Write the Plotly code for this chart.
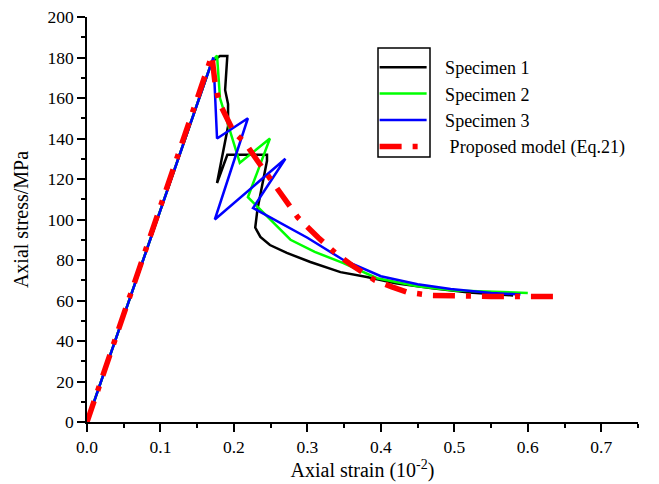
import plotly.graph_objects as go

# Specimen 1 (black)
x1 = [0, 0.17, 0.181, 0.191, 0.188, 0.192, 0.192, 0.177, 0.191, 0.245, 0.245, 0.238, 0.232, 0.229, 0.236, 0.249, 0.272, 0.304, 0.327, 0.345, 0.381, 0.42, 0.47, 0.52, 0.58]
y1 = [0, 178, 180.7, 180.7, 164, 157, 146, 118, 132, 132, 129, 115, 105, 96, 91.4, 87.4, 83.5, 79, 76, 74, 71.6, 68.5, 66, 64, 62.5]
# Specimen 2 (green)
x2 = [0, 0.17, 0.177, 0.181, 0.208, 0.249, 0.219, 0.25, 0.277, 0.31, 0.349, 0.395, 0.45, 0.5, 0.6]
y2 = [0, 178, 181, 160, 128, 140, 111, 100, 90, 84, 78.5, 71, 67, 65, 63.7]
# Specimen 3 (blue)
x3 = [0, 0.172, 0.177, 0.219, 0.174, 0.27, 0.226, 0.3, 0.349, 0.4, 0.45, 0.495, 0.55, 0.59]
y3 = [0, 180, 140, 150, 100, 130, 105.7, 91, 80, 72, 68, 65.7, 63.7, 63]
# Proposed model (red)
xm = [0, 0.17, 0.175, 0.181, 0.2, 0.215, 0.232, 0.252, 0.27, 0.287, 0.315, 0.338, 0.36, 0.392, 0.415, 0.437, 0.47, 0.5, 0.55, 0.6, 0.645]
ym = [0, 181, 165, 157, 143, 138, 129, 118.5, 109.6, 101, 91, 83.5, 77.5, 70, 66.7, 64, 62.5, 62.2, 62, 62, 62]

names = ["&nbsp;&nbsp;&nbsp;Specimen 1", "&nbsp;&nbsp;&nbsp;Specimen 2", "&nbsp;&nbsp;&nbsp;Specimen 3",
         "&nbsp;&nbsp;&nbsp;&nbsp;Proposed model (Eq.21)"]

FONT = "Liberation Serif, Times New Roman, serif"

fig = go.Figure()
fig.add_trace(go.Scatter(x=x1, y=y1, mode="lines", name=names[0], line=dict(color="black", width=2.5)))
fig.add_trace(go.Scatter(x=x2, y=y2, mode="lines", name=names[1], line=dict(color="#00ff00", width=2.5)))
fig.add_trace(go.Scatter(x=x3, y=y3, mode="lines", name=names[2], line=dict(color="#0000ff", width=2.5)))
fig.add_trace(go.Scatter(x=xm, y=ym, mode="lines", name=names[3],
                         line=dict(color="#ff0000", width=5.5, dash="22px,11px,5px,11px")))

fig.update_layout(
    width=659, height=484,
    margin=dict(l=87, r=21, t=17, b=62),
    paper_bgcolor="white", plot_bgcolor="white",
    font=dict(family=FONT, size=18, color="black"),
    showlegend=True,
    legend=dict(x=0.522, y=0.921, xanchor="left", yanchor="top",
                bgcolor="rgba(0,0,0,0)", borderwidth=0,
                font=dict(family=FONT, size=18), itemwidth=47, tracegroupgap=0),
    xaxis=dict(range=[0, 0.75], tickvals=[0, 0.1, 0.2, 0.3, 0.4, 0.5, 0.6, 0.7],
               ticktext=["0.0", "0.1", "0.2", "0.3", "0.4", "0.5", "0.6", "0.7"],
               ticks="outside", ticklen=8, tickwidth=1.5, tickcolor="black",
               showline=True, linecolor="black", linewidth=1.5, showgrid=False, zeroline=False,
               automargin=False,
               minor=dict(dtick=0.05, tick0=0, ticks="outside", ticklen=4, tickwidth=1.5, tickcolor="black"),
               title=dict(text="Axial strain (10<sup>-2</sup>)", font=dict(family=FONT, size=20), standoff=4),
               tickfont=dict(family=FONT, size=17.5)),
    yaxis=dict(range=[0, 200], dtick=20, tick0=0,
               ticks="outside", ticklen=8, tickwidth=1.5, tickcolor="black",
               showline=True, linecolor="black", linewidth=1.5, showgrid=False, zeroline=False,
               automargin=False,
               minor=dict(dtick=10, tick0=0, ticks="outside", ticklen=4, tickwidth=1.5, tickcolor="black"),
               title=dict(text="Axial stress/MPa", font=dict(family=FONT, size=20), standoff=14),
               tickfont=dict(family=FONT, size=17.5)),
    shapes=[dict(type="rect", xref="paper", yref="paper",
                 x0=(378 - 87) / 551, x1=(430 - 87) / 551,
                 y0=(422 - 157) / 405, y1=(422 - 48) / 405,
                 line=dict(color="black", width=1.5), fillcolor="rgba(0,0,0,0)")],
)

fig.write_html("out.html")
